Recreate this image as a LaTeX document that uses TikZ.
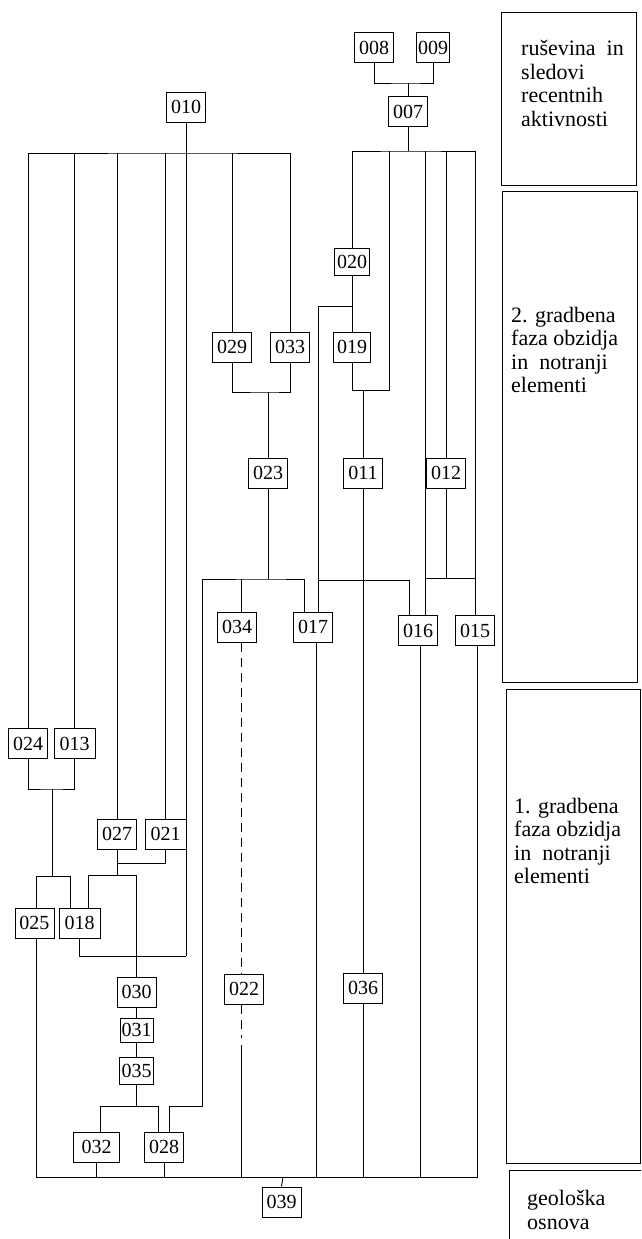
\documentclass[tikz,border=0pt]{standalone}
\usepackage{fontspec}
\setmainfont{Liberation Serif}
\usetikzlibrary{positioning,calc}

\tikzset{
  unit/.style={draw, line width=1pt, minimum width=39pt, minimum height=30pt,
    inner sep=0pt, font=\fontsize{20}{20}\selectfont},
  link/.style={line width=0.9pt},
  faint/.style={line width=0.5pt},
  gap/.style={line width=0.9pt, dash pattern=on 9pt off 6pt},
  band/.style={line width=1pt},
  phase/.style={align=left, anchor=north west, inner sep=0pt}
}

\begin{document}
\begin{tikzpicture}[x=1pt,y=-1pt]
\useasboundingbox (0,0) rectangle (641,1239);

% units
\node[unit] (n008) at (374,47.5) {008};
\node[unit, minimum width=33pt] (n009) at (433,47.5) {009};
\node[unit] (n007) at (408,111.5) {007};
\node[unit] (n010) at (186,107) {010};
\node[unit, minimum width=35pt, minimum height=27pt] (n020) at (352,261.5) {020};
\node[unit] (n029) at (232,347) {029};
\node[unit] (n033) at (290,347) {033};
\node[unit, minimum width=37pt] (n019) at (352,347) {019};
\node[unit] (n023) at (268,473) {023};
\node[unit] (n011) at (363,473) {011};
\node[unit] (n012) at (446,473) {012};
\node[unit] (n034) at (237,627) {034};
\node[unit] (n017) at (313,627) {017};
\node[unit] (n016) at (418,630.5) {016};
\node[unit] (n015) at (475,630.5) {015};
\node[unit] (n024) at (28,743.5) {024};
\node[unit, minimum width=41pt] (n013) at (74.5,743.5) {013};
\node[unit] (n027) at (117,834) {027};
\node[unit, minimum width=41pt] (n021) at (165.5,834) {021};
\node[unit] (n025) at (34.5,923) {025};
\node[unit, minimum width=41pt] (n018) at (79.5,923) {018};
\node[unit] (n030) at (136.5,992) {030};
\node[unit, minimum width=33pt, minimum height=24pt] (n031) at (136.5,1030) {031};
\node[unit, minimum width=34pt, minimum height=27pt] (n035) at (136.5,1070.5) {035};
\node[unit] (n022) at (244,989) {022};
\node[unit] (n036) at (363,988) {036};
\node[unit, minimum width=46pt] (n032) at (96.5,1147) {032};
\node[unit] (n028) at (164,1147) {028};
\node[unit] (n039) at (281.5,1202) {039};

% junctions
\coordinate (j007) at (408,83);
\coordinate (b007) at (408,151);
\coordinate (b010) at (186,153);
\coordinate (k020) at (352,306);
\coordinate (k017) at (318,580);
\coordinate (k019) at (389,390);
\coordinate (j011) at (363,390);
\coordinate (j023) at (268,392);
\coordinate (b023) at (268,579);
\coordinate (k016) at (425,578);
\coordinate (j012) at (446,578);
\coordinate (j024) at (52,789);
\coordinate (k025) at (52,876);
\coordinate (j027) at (117,863);
\coordinate (k027) at (117,875);
\coordinate (k030) at (136.5,875);
\coordinate (j030) at (186,956);
\coordinate (j035) at (136.5,1106);
\coordinate (k028) at (202,1106);
\coordinate (k022) at (241,1045);
\coordinate (b039) at (283,1177);

% upper part
\draw[link] (n008.south) |- (j007) -| (n009.south);
\draw[link] (j007) -- (n007.north);
\draw[link] (n007.south) -- (b007);
\draw[link] (n020.north) |- (b007) -| (n015.north);
\draw[link] ([xshift=7pt]n016.north) -- ([xshift=7pt]n016.north |- b007);
\draw[link] (n012.north) -- (n012.north |- b007);
\draw[link] (n019.south) |- (k019) -- (k019 |- b007);
\draw[link] (j011) -- (n011.north);
\draw[link] (n020.south) -- (n019.north);
\draw[link] (k020) -| ([xshift=5pt]n017.north);
\draw[link] (k017) -| ([xshift=-9pt]n016.north);
\draw[link] (n012.south) -- (j012);
\draw[link] (k016) -- (k016 -| n015.north);

% 010 and its lines
\draw[link] (n010.south) -- (b010);
\draw[link] (n024.north) |- (b010) -| (n033.north);
\draw[link] (n013.north) -- (n013.north |- b010);
\draw[link] (n027.north) -- (n027.north |- b010);
\draw[link] (n021.north) -- (n021.north |- b010);
\draw[link] (n029.north) -- (n029.north |- b010);
\draw[link] (b010) -- (j030);

% middle
\draw[link] (n029.south) |- (j023) -| (n033.south);
\draw[link] (j023) -- (n023.north);
\draw[link] (n023.south) -- (b023);
\draw[link] ([xshift=5pt]n028.north) |- (k028) |- (b023) -| ([xshift=-9pt]n017.north);
\draw[link] ([xshift=4pt]n034.north) -- ([xshift=4pt]n034.north |- b023);
\draw[gap] ([xshift=4pt]n034.south) -- ([xshift=-3pt]n022.north);
\draw[gap] ([xshift=-3pt]n022.south) -- ++(0,33);
\draw[link] (n011.south) -- (n036.north);

% lower left
\draw[link] (n024.south) |- (j024) -| (n013.south);
\draw[link] (j024) -- (k025);
\draw[link] ([xshift=1.5pt]n025.north) |- (k025) -| ([xshift=-9.5pt]n018.north);
\draw[link] (n027.south) |- (j027) -| (n021.south);
\draw[link] (j027) -- (k027);
\draw[link] ([xshift=8.5pt]n018.north) |- (k027) -- (k030);
\draw[faint] (k030) -- (n030.north);
\draw[link] (n018.south) |- (j030);
\draw[link] (n030) -- (n031) -- (n035);
\draw[link] (n035.south) -- (j035);
\draw[link] ([xshift=3.5pt]n032.north) |- (j035) -| ([xshift=-6pt]n028.north);

% bottom line
\draw[link] ([xshift=2pt]n025.south) |- (b039) -| ([xshift=2pt]n015.south);
\draw[link] (b039) -- (n039.north);
\draw[link] (n032.south) -- (n032.south |- b039);
\draw[link] (n028.south) -- (n028.south |- b039);
\draw[faint] (k022) -- (k022 |- b039);
\draw[faint] ([xshift=3pt]n017.south) -- ([xshift=3pt]n017.south |- b039);
\draw[faint] (n036.south) -- (n036.south |- b039);
\draw[link] ([xshift=2pt]n016.south) -- ([xshift=2pt]n016.south |- b039);

% phases
\draw[band] (501,13) rectangle (636,185);
\draw[band] (502,191) rectangle (637,682);
\draw[band] (506,689) rectangle (640,1163);
\draw[band] (641,1170) -- (509,1170) -- (509,1239);
\node[phase, font=\fontsize{22}{23.5}\selectfont] (p4) at (521,40)
  {ruševina\ \ in\\sledovi\\recentnih\\aktivnosti};
\node[phase, font=\fontsize{22}{23.5}\selectfont] (p3) at (511,307)
  {2. gradbena\\faza obzidja\\in\ \ notranji\\elementi};
\node[phase, font=\fontsize{22}{23.3}\selectfont] (p2) at (514,798)
  {1. gradbena\\faza obzidja\\in\ \ notranji\\elementi};
\node[phase, font=\fontsize{22}{24}\selectfont] (p1) at (527,1190)
  {geološka\\osnova};
\end{tikzpicture}
\end{document}
